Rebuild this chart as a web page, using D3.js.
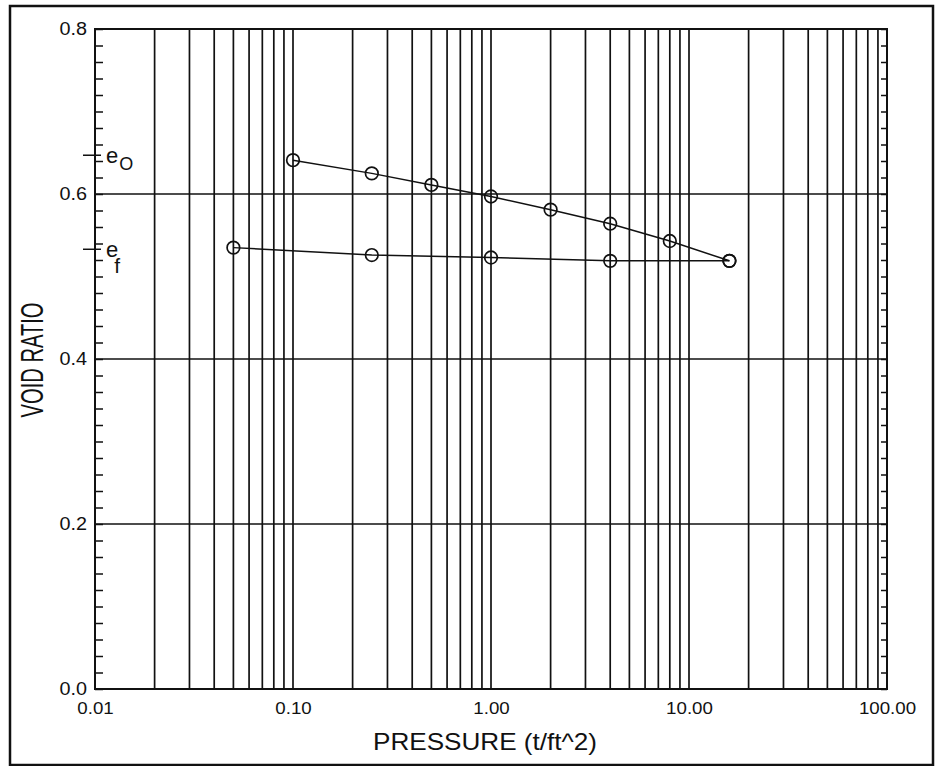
<!DOCTYPE html>
<html>
<head>
<meta charset="utf-8">
<script src="https://cdn.jsdelivr.net/npm/d3@7/dist/d3.min.js"></script>
<style>
  html, body { margin: 0; padding: 0; background: #fff; }
  svg { display: block; }
  text { font-family: "Liberation Sans", Arial, Helvetica, sans-serif; fill: #111; }
</style>
</head>
<body>
<svg id="chart" width="940" height="766"></svg>
<script>
// Consolidation test: void ratio vs. pressure (log scale)
const loadPressure   = [0.1, 0.25, 0.5, 1, 2, 4, 8, 16];
const loadVoidRatio  = [0.641, 0.625, 0.611, 0.597, 0.581, 0.564, 0.543, 0.519];
const unloadPressure = [16, 4, 1, 0.25, 0.05];
const unloadVoidRatio = [0.519, 0.519, 0.523, 0.526, 0.535];

const xTicks = [0.01, 0.1, 1, 10, 100];
const xTickLabels = ["0.01", "0.10", "1.00", "10.00", "100.00"];
const yTicks = [0, 0.2, 0.4, 0.6, 0.8];
const yTickLabels = ["0.0", "0.2", "0.4", "0.6", "0.8"];

// initial and final void ratio markers on the axis
const eMarks = [
  { sub: "O", value: 0.647 },
  { sub: "f", value: 0.533 }
];

const svg = d3.select("#chart");
const pLeft = 95, pRight = 887, pTop = 29, pBottom = 689;
const widen = 1.1; // plotter lettering is slightly wider than the screen font

const x = d3.scaleLog().domain([0.01, 100]).range([pLeft, pRight]);
const y = d3.scaleLinear().domain([0, 0.8]).range([pBottom, pTop]);

function stretch(sel) {
  sel.each(function () {
    const w = this.getComputedTextLength();
    d3.select(this).attr("textLength", w * widen).attr("lengthAdjust", "spacingAndGlyphs");
  });
}

// page frame
svg.append("rect")
  .attr("x", 10).attr("y", 6)
  .attr("width", 923).attr("height", 759)
  .attr("fill", "none").attr("stroke", "#111").attr("stroke-width", 2.5);

// vertical log grid: every 1..9 within each decade
const vGrid = [];
for (let e = -2; e < 2; e++) {
  for (let k = 1; k <= 9; k++) vGrid.push(k * Math.pow(10, e));
}
svg.append("g").selectAll("line").data(vGrid).join("line")
  .attr("x1", d => x(d)).attr("x2", d => x(d))
  .attr("y1", pTop).attr("y2", pBottom)
  .attr("stroke", "#111").attr("stroke-width", 1.7);

// horizontal grid at major values
svg.append("g").selectAll("line").data(yTicks.slice(1, -1)).join("line")
  .attr("x1", pLeft).attr("x2", pRight)
  .attr("y1", d => y(d)).attr("y2", d => y(d))
  .attr("stroke", "#111").attr("stroke-width", 1.7);

// minor ticks every 0.02 on both vertical axes, pointing inward
const minor = d3.range(0, 41).map(i => i * 0.02);
svg.append("g").attr("transform", `translate(${pLeft},0)`)
  .call(d3.axisLeft(y).tickValues(minor).tickSize(-8).tickFormat(""))
  .call(g => g.select(".domain").remove())
  .selectAll("line").attr("stroke", "#111").attr("stroke-width", 1.5);
svg.append("g").attr("transform", `translate(${pRight},0)`)
  .call(d3.axisRight(y).tickValues(minor).tickSize(-6).tickFormat(""))
  .call(g => g.select(".domain").remove())
  .selectAll("line").attr("stroke", "#111").attr("stroke-width", 1.5);

// plot frame
svg.append("rect")
  .attr("x", pLeft).attr("y", pTop)
  .attr("width", pRight - pLeft).attr("height", pBottom - pTop)
  .attr("fill", "none").attr("stroke", "#111").attr("stroke-width", 2);

// tick labels
svg.append("g").attr("transform", `translate(0,${pBottom})`)
  .call(d3.axisBottom(x).tickValues(xTicks).tickSize(0).tickPadding(13)
    .tickFormat((d, i) => xTickLabels[i]))
  .call(g => g.select(".domain").remove())
  .selectAll("text").attr("font-size", 17).attr("font-family", null).call(stretch);

svg.append("g").attr("transform", `translate(${pLeft},0)`)
  .call(d3.axisLeft(y).tickValues(yTicks).tickSize(0).tickPadding(8)
    .tickFormat((d, i) => yTickLabels[i]))
  .call(g => g.select(".domain").remove())
  .selectAll("text").attr("font-size", 18).attr("font-family", null).call(stretch);

// e_o and e_f markers
const em = svg.append("g").selectAll("g").data(eMarks).join("g");
em.append("line")
  .attr("x1", pLeft - 12).attr("x2", pLeft + 6)
  .attr("y1", d => y(d.value)).attr("y2", d => y(d.value))
  .attr("stroke", "#111").attr("stroke-width", 1.5);
em.append("text")
  .attr("x", pLeft + 11).attr("y", d => y(d.value) + 8)
  .attr("font-size", 22)
  .text("e")
  .append("tspan")
  .attr("dy", d => d.sub === "f" ? 16 : 7)
  .attr("dx", d => d.sub === "f" ? -4 : 1)
  .attr("font-size", d => d.sub === "f" ? 21 : 18)
  .text(d => d.sub);

// loading and unloading curves
const line = d3.line().x(d => x(d[0])).y(d => y(d[1]));
const loadPts = loadPressure.map((p, i) => [p, loadVoidRatio[i]]);
const unloadPts = unloadPressure.map((p, i) => [p, unloadVoidRatio[i]]);

[loadPts, unloadPts].forEach(pts => {
  svg.append("path").datum(pts)
    .attr("d", line)
    .attr("fill", "none").attr("stroke", "#111").attr("stroke-width", 1.5);
  svg.append("g").selectAll("circle").data(pts).join("circle")
    .attr("cx", d => x(d[0])).attr("cy", d => y(d[1]))
    .attr("r", 6.3)
    .attr("fill", "none").attr("stroke", "#111").attr("stroke-width", 1.7);
});

// axis titles
svg.append("text")
  .attr("x", 485).attr("y", 750)
  .attr("text-anchor", "middle").attr("font-size", 24)
  .attr("textLength", 224).attr("lengthAdjust", "spacingAndGlyphs")
  .text("PRESSURE (t/ft^2)");

svg.append("text")
  .attr("transform", `translate(43,360) rotate(-90)`)
  .attr("text-anchor", "middle").attr("font-size", 31)
  .attr("textLength", 115).attr("lengthAdjust", "spacingAndGlyphs")
  .text("VOID RATIO");
</script>
</body>
</html>
